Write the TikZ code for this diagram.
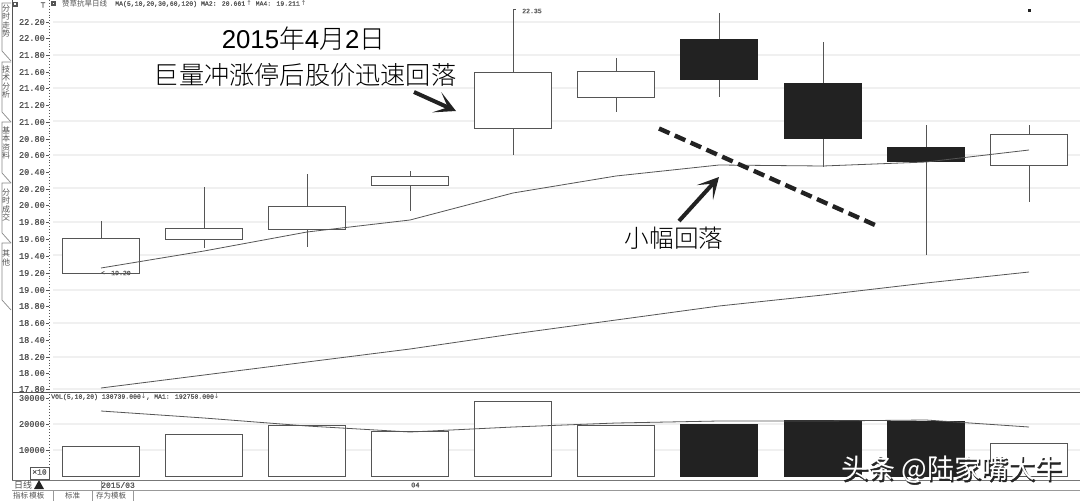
\documentclass[tikz,border=0pt]{standalone}
\usepackage{fontspec}
\setmainfont{Liberation Sans}
\newfontfamily\cjk{Noto Sans CJK SC}
\newfontfamily\cjkb[FakeBold=1.6]{Noto Sans CJK SC}
\newfontfamily\axf[FakeBold=0.8]{Liberation Mono}
\newfontfamily\cjkl{Noto Sans CJK SC Light}
\usetikzlibrary{arrows.meta}
\definecolor{ink}{HTML}{555555}
\definecolor{grid}{HTML}{F0F0F0}
\definecolor{blk}{HTML}{222222}
\tikzset{
 candle/.style={draw=ink,line width=0.9pt,fill=white},
 bear/.style={draw=blk,line width=0.9pt,fill=blk},
 wick/.style={draw=ink,line width=1pt},
 maline/.style={draw=ink,line width=0.8pt,line join=round},
 gridline/.style={draw=grid,line width=1.4pt},
 axlabel/.style={font=\axf\fontsize{8.6}{8.6}\selectfont,text=ink,anchor=east,inner sep=0pt},
 tablabel/.style={font=\cjk\fontsize{8}{8.3}\selectfont,text=ink,align=center,inner sep=0pt},
 small/.style={font=\cjk\fontsize{7.5}{8}\selectfont,text=ink,anchor=west,inner sep=0pt},
 tiny/.style={font=\axf\fontsize{6.5}{7}\selectfont,text=ink,anchor=west,inner sep=0pt},
 head/.style={font=\cjkl\fontsize{25.2}{26}\selectfont,text=black,inner sep=0pt},
 pointer/.style={draw=blk,line width=4pt,-{Stealth[length=21pt,width=22pt,inset=12pt]}},
 panel/.style={draw=ink,line width=0.9pt},
 tabshape/.style={draw=ink!70,line width=0.7pt,fill=white},
}
\begin{document}
\begin{tikzpicture}[x=1pt,y=-1pt]
\useasboundingbox (0,0) rectangle (1080,501);
\fill[white] (0,0) rectangle (1080,501);
% grid
\foreach \y in {22,55,88,121,155,188,222,255,290,323,357,389}{\draw[gridline] (53,\y) -- (1080,\y);}
\foreach \y in {424,450}{\draw[gridline] (53,\y) -- (1080,\y);}
% axis labels
\foreach \t/\y in {22.20/22,22.00/38,21.80/55,21.60/72,21.40/88,21.20/105,21.00/122,20.80/139,20.60/155,20.40/172,20.20/189,20.00/205,19.80/222,19.60/239,19.40/256,19.20/273,19.00/290,18.80/306,18.60/323,18.40/340,18.20/357,18.00/373,17.80/389}{
 \node[axlabel] (p\t) at (45,\y) {\t};
 \draw[ink,line width=0.5pt] (46,\y) -- (49,\y);
}
\foreach \t/\y in {30000/398,20000/424,10000/450}{
 \node[axlabel] (v\t) at (45,\y) {\t};
 \draw[ink,line width=0.5pt] (46,\y) -- (49,\y);
}
% panel frame
\draw[panel] (12,0) -- (12,480);
\draw[ink,line width=0.9pt,dotted] (49,0) -- (49,480);
\draw[panel] (12,392.5) -- (1080,392.5);
\draw[panel,draw=ink!80] (12,480) -- (1080,480);
% tabs
\foreach \a/\b in {3/61, 62/122, 122/183, 183/243, 243/310}{
 \draw[tabshape] (11,\a) -- (2,\a) -- (2,\b-10) -- (11,\b);
}
\node[tablabel] (tab1) at (6,21) {分\\时\\走\\势};
\node[tablabel] (tab2) at (6,82) {技\\术\\分\\析};
\node[tablabel] (tab3) at (6,143) {基\\本\\资\\料};
\node[tablabel] (tab4) at (6,205) {分\\时\\成\\交};
\node[tablabel] (tab5) at (6,258) {其\\他};
% top bar
\draw[ink,line width=1.2pt] (13.5,2.5) rectangle (17,6);
\draw[ink,line width=1.2pt] (52,2) rectangle (55,5);
\node[font=\axf\fontsize{8}{8}\selectfont,text=ink,inner sep=0pt] (tmark) at (43,5) {T};
\node[small] (title) at (62,4) {赞草抗旱日线};
\node[tiny] (title2) at (115,4) {MA(5,10,20,30,60,120) MA2: 20.661\,{\fontspec{DejaVu Sans}↑} MA4: 19.211\,{\fontspec{DejaVu Sans}↑}};
% wicks
\foreach \x/\a/\b in {101/221/238,204/187/248,307/174/247,410/171/211,513/9/155,616/58/112,719/13/97,823/42/167,926/125/255,1029/125/202}{
 \draw[wick] (\x,\a) -- (\x,\b);
}
\draw[wick] (513,9) -- (516,9);
% bodies
\foreach \x/\a/\b in {62/238/273,165/228/239,268/206/229,371/176/185,474/72/128,577/71/97,990/134/165}{
 \draw[candle] (\x,\a) rectangle (\x+77.5,\b);
}
\foreach \x/\a/\b in {680/39/79,784/83/138,887/147/161}{
 \draw[bear] (\x,\a) rectangle (\x+77.5,\b);
}
\node[tiny] (hi) at (522,11) {22.35};
\node[tiny] (lo) at (111,273) {19.20};
\node[font=\axf\fontsize{6}{6}\selectfont,text=ink,inner sep=0pt] (lomark) at (103,273) {<};
\fill[blk] (1027.5,8.5) rectangle (1031,12);
% moving averages
\draw[maline] (101,268) -- (204,251) -- (307,232) -- (410,220) -- (513,193) -- (616,176) -- (719,165) -- (823,166) -- (926,162) -- (1029,150);
\draw[maline] (101,388) -- (204,375) -- (307,362) -- (410,349) -- (513,334) -- (616,320) -- (719,306) -- (823,295) -- (926,283) -- (1029,272);
% volume
\foreach \x/\a in {62/446,165/434,268/425,371/431,474/401,577/425,990/443}{
 \draw[candle] (\x,\a) rectangle (\x+77.5,476);
}
\foreach \x/\a in {680/424,784/420,887/421}{
 \draw[bear] (\x,\a) rectangle (\x+77.5,476);
}
\draw[maline] (101,411) -- (204,418) -- (307,426) -- (410,432) -- (513,427) -- (616,423) -- (719,421) -- (823,421) -- (926,420) -- (1029,427);
\node[tiny] (voltitle) at (51,397) {VOL(5,10,20) 130739.000{\fontspec{DejaVu Sans}↓}, MA1: 192750.000{\fontspec{DejaVu Sans}↓}};
% x10 and bottom bar
\draw[ink,line width=0.5pt,fill=white] (30,467) rectangle (49,479);
\node[font=\axf\fontsize{8}{8}\selectfont,text=ink,inner sep=0pt] (xten) at (39.5,472) {×10};
\node[small,font=\cjk\fontsize{9}{9}\selectfont] (day) at (14,485) {日线};
\fill[blk] (34,489) -- (39,480) -- (44,489) -- cycle;
\node[tiny,font=\axf\fontsize{8}{8}\selectfont] (d1) at (101,485) {2015/03};
\node[tiny,font=\axf\fontsize{7}{7}\selectfont] (d2) at (411,485) {04};
\draw[ink!60,line width=0.5pt] (101,480) -- (101,490);
\draw[ink!60,line width=0.5pt] (12,490) -- (1080,490);
\node[small] (b1) at (13,496) {指标\,模板};
\node[small] (b2) at (65,496) {标准};
\node[small] (b3) at (96,496) {存为模板};
\draw[ink!60,line width=0.5pt] (53,490) -- (53,501) (92,490) -- (92,501) (133,490) -- (133,501);
% annotations
\node[head,font=\fontsize{25.8}{26}\selectfont] (date) at (303.5,39) {2015{\cjkl 年}4{\cjkl 月}2{\cjkl 日}};
\node[head] (big) at (305,75) {巨量冲涨停后股价迅速回落};
\node[head,font=\cjkl\fontsize{24.6}{26}\selectfont] (small) at (674,238) {小幅回落};
\coordinate (a1s) at (414,92);
\coordinate (a1e) at (456,111);
\coordinate (a2s) at (679,221);
\coordinate (a2e) at (719,177);
\draw[pointer] (a1s) -- (a1e);
\draw[pointer] (a2s) -- (a2e);
\coordinate (ds) at (659,128.5);
\coordinate (de) at (875,225);
\draw[draw=blk,line width=4.4pt,dash pattern=on 11.5pt off 5.8pt] (ds) -- (de);
% watermark
\node[font=\cjkb\fontsize{27}{28}\selectfont,text=black!85,inner sep=0pt] (wms) at (953,471) {头条 @陆家嘴大牛};
\node[font=\cjk\fontsize{27}{28}\selectfont,text=white,inner sep=0pt] (wm) at (951.7,469.7) {头条 @陆家嘴大牛};
\end{tikzpicture}
\end{document}
